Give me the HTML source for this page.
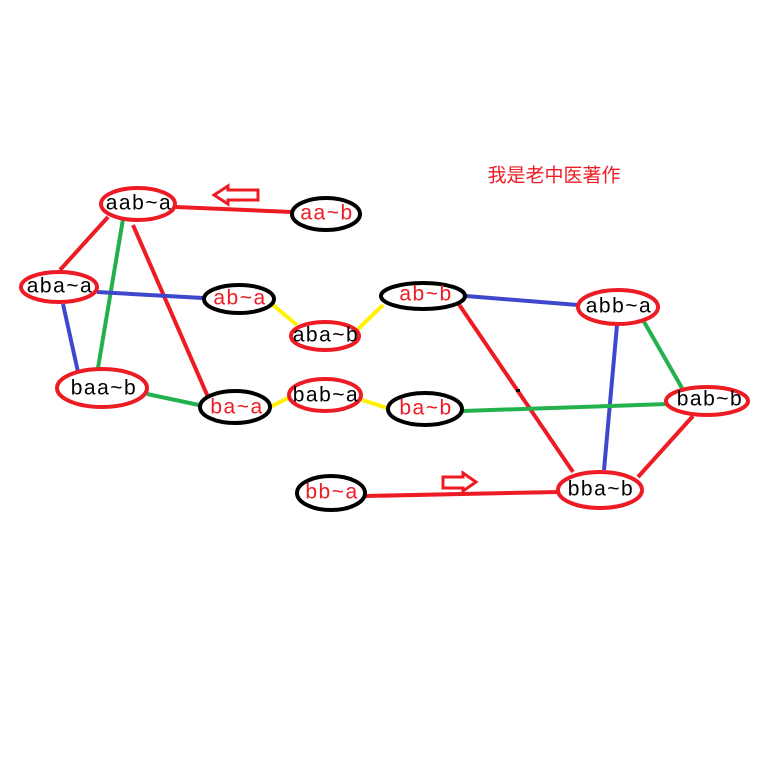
<!DOCTYPE html>
<html><head><meta charset="utf-8"><style>
html,body{margin:0;padding:0;background:#fff;}
svg{display:block}
text{font-family:"Liberation Sans","Noto Sans CJK SC",sans-serif;font-size:21px;letter-spacing:1.5px;text-anchor:middle;dominant-baseline:central}
</style></head><body>
<svg width="769" height="767" viewBox="0 0 769 767" xmlns="http://www.w3.org/2000/svg">
<rect width="769" height="767" fill="#fff"/>
<g stroke-width="4" stroke-linecap="butt" fill="none">
<line x1="176" y1="207" x2="291" y2="212" stroke="#ed1c24"/>
<line x1="108" y1="217" x2="60" y2="270" stroke="#ed1c24"/>
<line x1="123" y1="219" x2="98" y2="368" stroke="#22b14c"/>
<line x1="133" y1="225" x2="208" y2="397" stroke="#ed1c24"/>
<line x1="97" y1="292" x2="203" y2="298" stroke="#3f48cc"/>
<line x1="63" y1="304" x2="78" y2="372" stroke="#3f48cc"/>
<line x1="147" y1="394" x2="199" y2="405" stroke="#22b14c"/>
<line x1="273" y1="305" x2="297" y2="325" stroke="#fff200"/>
<line x1="357" y1="330" x2="383" y2="305" stroke="#fff200"/>
<line x1="270" y1="407" x2="288" y2="398" stroke="#fff200"/>
<line x1="362" y1="400" x2="387" y2="408" stroke="#fff200"/>
<line x1="466" y1="296" x2="578" y2="305" stroke="#3f48cc"/>
<line x1="458" y1="303" x2="573" y2="472" stroke="#ed1c24"/>
<line x1="617" y1="325" x2="604" y2="470" stroke="#3f48cc"/>
<line x1="643" y1="320" x2="682" y2="388" stroke="#22b14c"/>
<line x1="463" y1="411" x2="667" y2="404" stroke="#22b14c"/>
<line x1="693" y1="416" x2="638" y2="477" stroke="#ed1c24"/>
<line x1="366" y1="496" x2="558" y2="492" stroke="#ed1c24"/>
</g>
<rect x="516" y="389" width="4" height="3" fill="#000"/>
<g stroke-width="4" fill="#fff">
<ellipse cx="138" cy="204" rx="37" ry="16" stroke="#ed1c24"/>
<ellipse cx="326" cy="214" rx="34" ry="16" stroke="#000"/>
<ellipse cx="59" cy="287" rx="38" ry="15" stroke="#ed1c24"/>
<ellipse cx="239" cy="299" rx="35" ry="14" stroke="#000"/>
<ellipse cx="325" cy="336" rx="34" ry="14" stroke="#ed1c24"/>
<ellipse cx="102" cy="388" rx="45" ry="19" stroke="#ed1c24"/>
<ellipse cx="235" cy="407" rx="35" ry="16" stroke="#000"/>
<ellipse cx="325" cy="395" rx="36" ry="16" stroke="#ed1c24"/>
<ellipse cx="423" cy="296" rx="42" ry="13" stroke="#000"/>
<ellipse cx="425" cy="409" rx="37" ry="16" stroke="#000"/>
<ellipse cx="618" cy="307" rx="40" ry="17" stroke="#ed1c24"/>
<ellipse cx="707" cy="401" rx="41" ry="14" stroke="#ed1c24"/>
<ellipse cx="600" cy="490" rx="42" ry="18" stroke="#ed1c24"/>
<ellipse cx="331" cy="493" rx="34" ry="17" stroke="#000"/>
</g>
<g>
<text x="139" y="203" fill="#000">aab~a</text>
<text x="327" y="213" fill="#ed1c24">aa~b</text>
<text x="60" y="286" fill="#000">aba~a</text>
<text x="240" y="298" fill="#ed1c24">ab~a</text>
<text x="326" y="335" fill="#000">aba~b</text>
<text x="104" y="388" fill="#000">baa~b</text>
<text x="237" y="407" fill="#ed1c24">ba~a</text>
<text x="326" y="395" fill="#000">bab~a</text>
<text x="426" y="294" fill="#ed1c24">ab~b</text>
<text x="426" y="408" fill="#ed1c24">ba~b</text>
<text x="619" y="306" fill="#000">abb~a</text>
<text x="710" y="399" fill="#000">bab~b</text>
<text x="601" y="489" fill="#000">bba~b</text>
<text x="332" y="492" fill="#ed1c24">bb~a</text>
</g>
<path d="M214 195 L228 186 L228 190 L258 190 L258 200 L228 200 L228 204 Z" fill="none" stroke="#ed1c24" stroke-width="3"/>
<path d="M443 477 L463 477 L463 473 L476 482 L463 491 L463 488 L443 488 Z" fill="none" stroke="#ed1c24" stroke-width="3"/>
<text x="554" y="176" fill="#ed1c24" style="font-size:19px;letter-spacing:0">我是老中医著作</text>
</svg>
</body></html>
